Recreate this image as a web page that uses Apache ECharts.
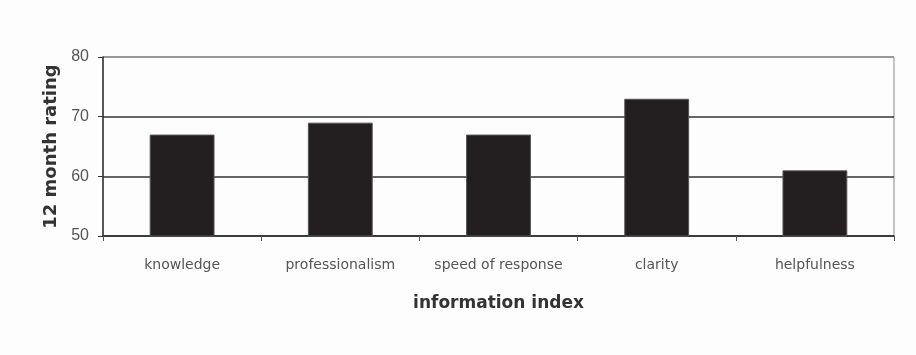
<!DOCTYPE html>
<html>
<head>
<meta charset="utf-8">
<script src="https://cdn.jsdelivr.net/npm/echarts@6/dist/echarts.min.js"></script>
<style>
  html, body { margin: 0; padding: 0; background: #fdfdfd; }
  #chart { width: 916px; height: 355px; }
</style>
</head>
<body>
<div id="chart"></div>
<script>
// Information index ratings over 12 months
const categories = ['knowledge', 'professionalism', 'speed of response', 'clarity', 'helpfulness'];
const ratings = [67, 69, 67, 73, 61];
const yTicks = { min: 50, max: 80, interval: 10 };

const chart = echarts.init(document.getElementById('chart'));
chart.setOption({
  backgroundColor: '#fdfdfd',
  animation: false,
  grid: {
    left: 103, right: 22, top: 57, bottom: 119,
    show: true, borderColor: '#8a8a8a', borderWidth: 1, backgroundColor: 'transparent'
  },
  xAxis: {
    type: 'category',
    data: categories,
    name: 'information index',
    nameLocation: 'middle',
    nameGap: 59,
    nameTextStyle: { fontFamily: 'DejaVu Sans', fontWeight: 'bold', fontSize: 17, color: '#333' },
    axisLine: { lineStyle: { color: '#333', width: 1.5 } },
    axisTick: { show: true, interval: 0, length: 5, lineStyle: { color: '#555' } },
    axisLabel: { interval: 0, margin: 22, fontFamily: 'DejaVu Sans', fontSize: 14, color: '#555' }
  },
  yAxis: {
    type: 'value',
    min: yTicks.min, max: yTicks.max, interval: yTicks.interval,
    name: '12 month rating',
    nameLocation: 'middle',
    nameGap: 43,
    nameTextStyle: { fontFamily: 'DejaVu Sans', fontWeight: 'bold', fontSize: 18, color: '#333' },
    axisLine: { show: true, lineStyle: { color: '#333', width: 1.5 } },
    axisTick: { show: true, length: 5, lineStyle: { color: '#333' } },
    axisLabel: { margin: 14, fontFamily: 'Liberation Sans', fontSize: 16, color: '#555' },
    splitLine: { show: true, lineStyle: { color: ['#333', '#333', '#333', '#8a8a8a'], width: 1.5 } }
  },
  series: [{
    type: 'bar',
    data: ratings,
    barWidth: '41%',
    itemStyle: { color: '#231f20', borderColor: '#555', borderWidth: 1 }
  }]
});
</script>
</body>
</html>
